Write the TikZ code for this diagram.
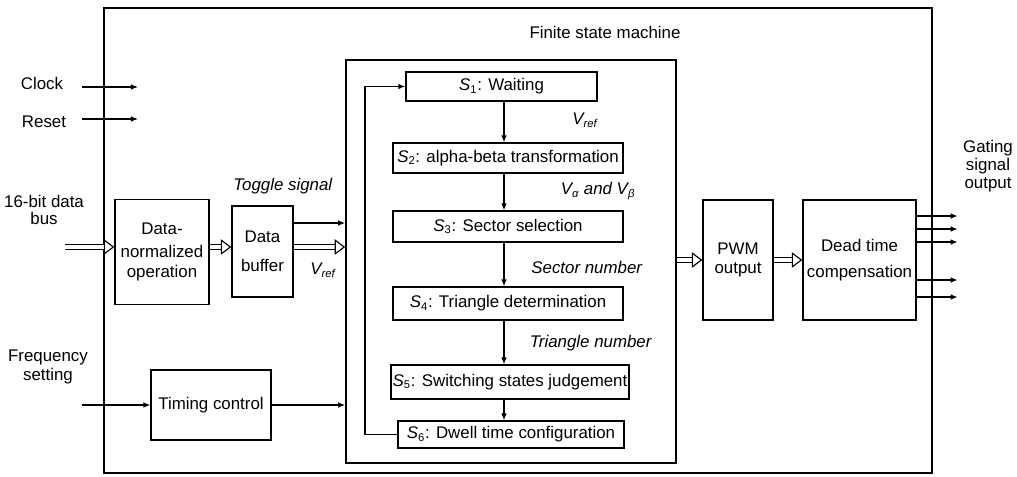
\documentclass[tikz,border=0pt]{standalone}
\usepackage{fontspec}
\setmainfont{Liberation Sans}
\usetikzlibrary{arrows,arrows.meta,positioning}

\tikzset{
  block/.style={draw, line width=0.9pt, align=center, inner sep=1pt},
  frame/.style={draw, line width=1.1pt},
  sig/.style={line width=0.9pt, -{Latex[length=5pt,width=4pt]}},
  bus/.style={double, double distance=3pt, line width=0.8pt,
    -{Triangle[open, fill=white, length=7.5pt, width=11pt, line width=0.8pt]}},
  lbl/.style={align=center, inner sep=0pt}
}

\begin{document}
\begin{tikzpicture}[x=0.025cm, y=-0.025cm, every node/.style={font=\large}]
\useasboundingbox (0,0) rectangle (1017,476);

% frames
\node[frame, minimum width=20.7cm, minimum height=11.625cm] (top) at (518,240.5) {};
\node[frame, minimum width=8.25cm, minimum height=10.075cm] (fsm) at (511,261.5) {};
\node[lbl] (fsmname) at (605,32) {Finite state machine};

% inputs
\node[lbl] (clock) at (42,83) {Clock};
\node[lbl] (reset) at (44,122) {Reset};
\node[lbl] (bus) at (44,210) {16-bit data\\[-2pt]bus};
\node[lbl] (freq) at (48,367) {Frequency\\setting};
\coordinate (clkin) at (82,87);   \coordinate (clkout) at (138,87);
\coordinate (rstin) at (82,119);  \coordinate (rstout) at (138,119);
\coordinate (busin) at (65,247);
\coordinate (freqin) at (82,405);
\coordinate (tgl) at (0,223);

% left blocks
\node[block, minimum width=2.35cm, minimum height=2.625cm] (norm) at (162,252) {Data-\\[2pt]normalized\\operation};
\node[block, minimum width=1.525cm, minimum height=2.275cm] (buf) at (262.5,251.5) {Data\\[7pt]buffer};
\node[block, minimum width=3cm, minimum height=1.75cm] (timing) at (211,405) {Timing control};
\node[lbl] (toggle) at (283,186) {\textit{Toggle signal}};
\node[lbl] (vref1) at (323,270) {\textit{V\textsubscript{ref}}};

% states
\node[block, minimum width=4.775cm, minimum height=0.725cm] (s1) at (501.5,86.5) {\textit{S}\textsubscript{1}: Waiting};
\node[block, minimum width=5.75cm, minimum height=0.75cm] (s2) at (508,158) {\textit{S}\textsubscript{2}: alpha-beta transformation};
\node[block, minimum width=5.75cm, minimum height=0.775cm] (s3) at (508,226.5) {\textit{S}\textsubscript{3}: Sector selection};
\node[block, minimum width=5.75cm, minimum height=0.825cm] (s4) at (508,303.5) {\textit{S}\textsubscript{4}: Triangle determination};
\node[block, minimum width=5.95cm, minimum height=0.85cm] (s5) at (510,382) {\textit{S}\textsubscript{5}: Switching states judgement};
\node[block, minimum width=5.65cm, minimum height=0.675cm] (s6) at (511,434.5) {\textit{S}\textsubscript{6}: Dwell time configuration};
\coordinate (spine) at (504,0);
\coordinate (loopx) at (365,260);

\node[lbl] (vref2) at (585,120) {\textit{V\textsubscript{ref}}};
\node[lbl] (vab) at (598,191) {\textit{V\textsubscript{α} and V\textsubscript{β}}};
\node[lbl] (secnum) at (587,267) {\textit{Sector number}};
\node[lbl] (trinum) at (591,343) {\textit{Triangle number}};

% right blocks
\node[block, minimum width=1.75cm, minimum height=3cm] (pwm) at (738,260) {PWM\\output};
\node[block, minimum width=2.825cm, minimum height=3cm] (dead) at (859.5,260) {Dead time\\[4pt]compensation};
\node[lbl] (gate) at (988,166) {Gating\\[-1pt]signal\\[-1pt]output};

% connections
\draw[sig] (clkin) -- (clkout);
\draw[sig] (rstin) -- (rstout);
\draw[bus] (busin) -- (busin -| norm.west);
\draw[bus] (norm.east |- busin) -- (busin -| buf.west);
\draw[bus] (buf.east |- busin) -- (busin -| fsm.west);
\draw[sig] (buf.east |- tgl) -- (tgl -| fsm.west);
\draw[sig] (freqin) -- (timing.west);
\draw[sig] (timing.east) -- (timing.east -| fsm.west);

\foreach \a/\b in {s1/s2, s2/s3, s3/s4, s4/s5, s5/s6}
  \draw[sig] (\a.south -| spine) -- (\b.north -| spine);
\draw[sig] (s6.west) -| (loopx) |- (s1.west);

\draw[bus] (fsm.east |- pwm.west) -- (pwm.west);
\draw[bus] (pwm.east) -- (dead.west);
\foreach \y in {216,229,242,280,297}
  \draw[sig] (dead.east |- 0,\y) -- ++(41,0);

\end{tikzpicture}
\end{document}
